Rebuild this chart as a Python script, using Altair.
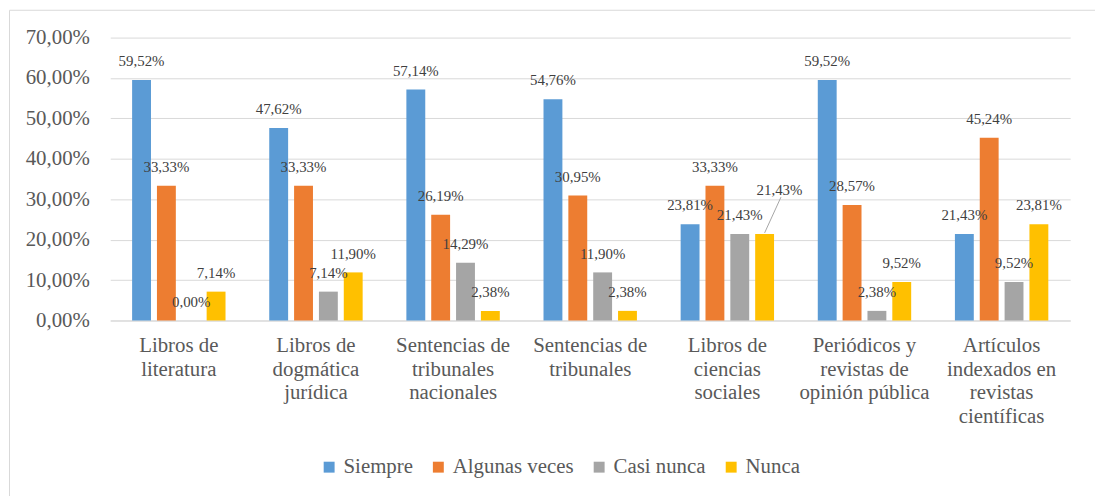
import altair as alt
import pandas as pd

categories = [
    "Libros de\nliteratura",
    "Libros de\ndogmática\njurídica",
    "Sentencias de\ntribunales\nnacionales",
    "Sentencias de\ntribunales",
    "Libros de\nciencias\nsociales",
    "Periódicos y\nrevistas de\nopinión pública",
    "Artículos\nindexados en\nrevistas\ncientíficas",
]
series = ["Siempre", "Algunas veces", "Casi nunca", "Nunca"]
siempre = [59.52, 47.62, 57.14, 54.76, 23.81, 59.52, 21.43]
algunas_veces = [33.33, 33.33, 26.19, 30.95, 33.33, 28.57, 45.24]
casi_nunca = [0.00, 7.14, 14.29, 11.90, 21.43, 2.38, 9.52]
nunca = [7.14, 11.90, 2.38, 2.38, 21.43, 9.52, 23.81]
y_ticks = [0, 10, 20, 30, 40, 50, 60, 70]
colors = ["#5B9BD5", "#ED7D31", "#A5A5A5", "#FFC000"]

rows = []
for s, vals in zip(series, [siempre, algunas_veces, casi_nunca, nunca]):
    for c, v in zip(categories, vals):
        rows.append({"cat": c, "serie": s, "valor": v})
df = pd.DataFrame(rows)

FONT = "'Times New Roman', 'Liberation Serif', 'DejaVu Serif', serif"
TXT = "#595959"
LABEL_FMT = "replace(format(datum.valor, '.2f'), '.', ',') + '%'"

leader_pred = {"and": [{"field": "cat", "equal": categories[4]},
                       {"field": "serie", "equal": "Nunca"}]}

x_enc = alt.X(
    "cat:N", sort=categories,
    scale=alt.Scale(paddingInner=0, paddingOuter=0),
    axis=alt.Axis(
        title=None, labelAngle=0, labelExpr="split(datum.label, '\\n')",
        labelFont=FONT, labelFontSize=21, labelColor=TXT, labelLineHeight=24,
        labelPadding=14, labelBaseline="top", labelLimit=0,
        domainColor="#D9D9D9", domainWidth=1, ticks=False, grid=False,
    ),
)
xoff_enc = alt.XOffset("serie:N", sort=series,
                       scale=alt.Scale(paddingInner=0.24, paddingOuter=0.88))
y_enc = alt.Y(
    "valor:Q", scale=alt.Scale(domain=[0, 70]),
    axis=alt.Axis(
        title=None, values=y_ticks,
        labelExpr="replace(format(datum.value, '.2f'), '.', ',') + '%'",
        labelFont=FONT, labelFontSize=21, labelColor=TXT, labelPadding=21,
        ticks=False, domain=False, gridColor="#D9D9D9", gridWidth=1,
    ),
)

border = alt.Chart(pd.DataFrame({"k": [0]})).mark_rect(
    fillOpacity=0, stroke="#D9D9D9", strokeWidth=1
).encode(
    x=alt.value(-101.5), x2=alt.value(1200), y=alt.value(-27.5), y2=alt.value(700)
)

bars = alt.Chart(df).mark_bar().encode(
    x=x_enc, xOffset=xoff_enc, y=y_enc,
    color=alt.Color(
        "serie:N", sort=series,
        scale=alt.Scale(domain=series, range=colors),
        legend=alt.Legend(
            title=None, orient="none", legendX=210, legendY=422,
            direction="horizontal", symbolType="square", symbolSize=121,
            symbolStrokeWidth=0, labelFont=FONT, labelFontSize=21,
            labelColor=TXT, columnPadding=15, labelOffset=4, padding=0,
        ),
    ),
)

labels = alt.Chart(df).transform_filter(
    {"not": leader_pred}
).transform_calculate(
    txt=LABEL_FMT
).mark_text(
    font=FONT, fontSize=15, color="#404040", baseline="alphabetic", dy=-14
).encode(
    x=alt.X("cat:N", sort=categories), xOffset=alt.XOffset("serie:N", sort=series),
    y="valor:Q", text="txt:N",
)

leader_label = alt.Chart(df).transform_filter(leader_pred).transform_calculate(
    txt=LABEL_FMT
).mark_text(
    font=FONT, fontSize=15, color="#404040", baseline="alphabetic", dx=15, dy=-39
).encode(
    x=alt.X("cat:N", sort=categories), xOffset=alt.XOffset("serie:N", sort=series),
    y="valor:Q", text="txt:N",
)

leader_line = alt.Chart(df).transform_filter(leader_pred).mark_rule(
    color="#A5A5A5", strokeWidth=1, yOffset=-1, x2Offset=54, y2Offset=-37
).encode(
    x=alt.X("cat:N", sort=categories), xOffset=alt.XOffset("serie:N", sort=series),
    x2="cat:N", y="valor:Q", y2="valor:Q",
)

chart = alt.layer(border, bars, labels, leader_line, leader_label).properties(
    width=967, height=285,
    autosize=alt.AutoSizeParams(type="none"),
    padding={"left": 103, "top": 28, "right": 25, "bottom": 175},
).configure(
    background="white", font=FONT
).configure_view(stroke=None)

chart.save("out.html", embed_options={"renderer": "svg", "actions": False})
